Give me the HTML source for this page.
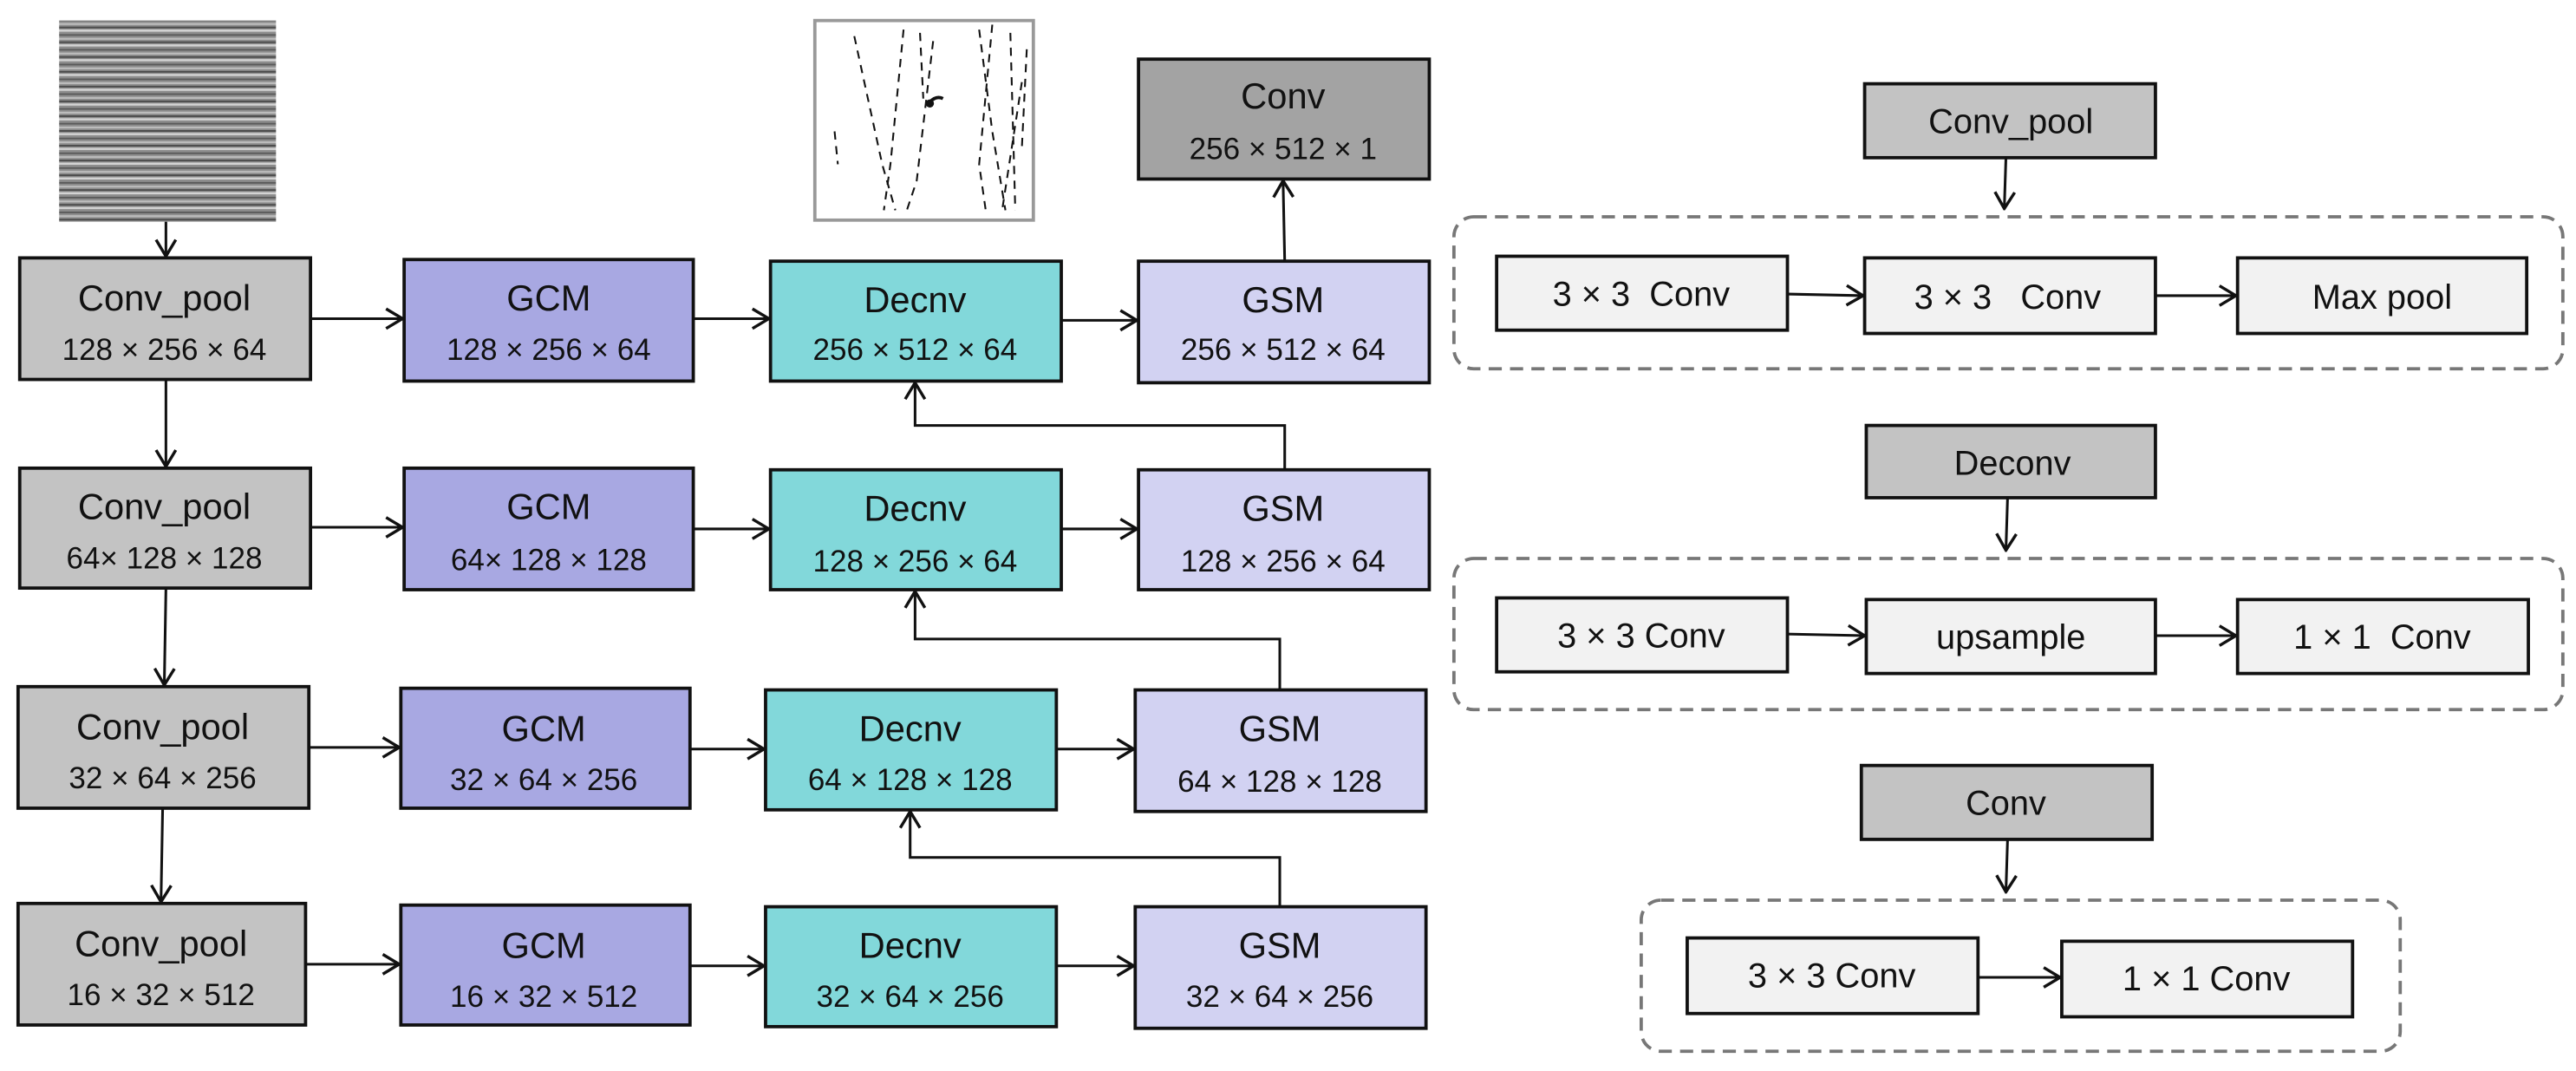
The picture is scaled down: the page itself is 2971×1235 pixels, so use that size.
<!DOCTYPE html>
<html><head><meta charset="utf-8"><style>
html,body{margin:0;padding:0;background:#fff;}
svg{display:block;}
text{font-family:"Liberation Sans",sans-serif;fill:#111;text-anchor:middle;white-space:pre;}
.t{font-size:22px;}
.d{font-size:18.5px;}
.s{font-size:21px;}
.b{stroke:#111;stroke-width:2;}
.l{stroke:#111;stroke-width:1.6;fill:none;}
</style></head><body>
<svg width="2971" height="1235" viewBox="0 0 1568 652" preserveAspectRatio="none" xmlns="http://www.w3.org/2000/svg">
<defs>
<pattern id="seis" x="36" width="132" height="9" patternUnits="userSpaceOnUse">
<rect width="132" height="9" fill="#8c8c8c"/>
<rect y="0" width="132" height="1.3" fill="#d4d4d4"/>
<rect y="2.8" width="132" height="1" fill="#5a5a5a"/>
<rect y="5" width="132" height="1.2" fill="#bdbdbd"/>
<rect y="7.2" width="132" height="1" fill="#4a4a4a"/>
</pattern>
<marker id="a" markerWidth="12" markerHeight="14" refX="11" refY="7" orient="auto" markerUnits="userSpaceOnUse">
<path d="M1,1 L11,7 L1,13" fill="none" stroke="#111" stroke-width="1.8"/>
</marker>
</defs>
<rect x="36" y="12.5" width="132" height="122.5" fill="url(#seis)"/>
<rect x="496" y="12.5" width="133" height="121.5" fill="#fff" stroke="#999" stroke-width="2"/>
<g stroke="#111" stroke-width="1.1" stroke-dasharray="5 4" fill="none">
<path d="M520,22 L537,100 L545,128"/><path d="M550,18 L542,100 L538,128"/><path d="M568,25 L558,110 L552,128"/>
<path d="M596,18 L604,80 L612,128"/><path d="M604,15 L596,100 L600,128"/><path d="M615,20 L618,128"/>
<path d="M622,50 L610,128"/><path d="M560,20 L562,60"/><path d="M625,30 L622,90"/><path d="M508,80 L510,100"/>
</g>
<path d="M566,62 q4,-4 8,-2" stroke="#111" stroke-width="2" fill="none"/>
<circle cx="566" cy="63" r="2.5" fill="#111"/>
<g>
<rect class="b" x="693" y="36" width="177" height="73" fill="#a3a3a3"/>
<text class="t" x="781" y="66">Conv</text><text class="d" x="781" y="97">256 × 512 × 1</text>

<rect class="b" x="12" y="157" width="177" height="74" fill="#c3c3c3"/>
<rect class="b" x="246" y="158" width="176" height="74" fill="#a8a8e2"/>
<rect class="b" x="469" y="159" width="177" height="73" fill="#82d8da"/>
<rect class="b" x="693" y="159" width="177" height="74" fill="#d2d2f2"/>
<text class="t" x="100" y="189">Conv_pool</text><text class="d" x="100" y="219">128 × 256 × 64</text>
<text class="t" x="334" y="189">GCM</text><text class="d" x="334" y="219">128 × 256 × 64</text>
<text class="t" x="557" y="190">Decnv</text><text class="d" x="557" y="219">256 × 512 × 64</text>
<text class="t" x="781" y="190">GSM</text><text class="d" x="781" y="219">256 × 512 × 64</text>

<rect class="b" x="12" y="285" width="177" height="73" fill="#c3c3c3"/>
<rect class="b" x="246" y="285" width="176" height="74" fill="#a8a8e2"/>
<rect class="b" x="469" y="286" width="177" height="73" fill="#82d8da"/>
<rect class="b" x="693" y="286" width="177" height="73" fill="#d2d2f2"/>
<text class="t" x="100" y="316">Conv_pool</text><text class="d" x="100" y="346">64× 128 × 128</text>
<text class="t" x="334" y="316">GCM</text><text class="d" x="334" y="347">64× 128 × 128</text>
<text class="t" x="557" y="317">Decnv</text><text class="d" x="557" y="348">128 × 256 × 64</text>
<text class="t" x="781" y="317">GSM</text><text class="d" x="781" y="348">128 × 256 × 64</text>

<rect class="b" x="11" y="418" width="177" height="74" fill="#c3c3c3"/>
<rect class="b" x="244" y="419" width="176" height="73" fill="#a8a8e2"/>
<rect class="b" x="466" y="420" width="177" height="73" fill="#82d8da"/>
<rect class="b" x="691" y="420" width="177" height="74" fill="#d2d2f2"/>
<text class="t" x="99" y="450">Conv_pool</text><text class="d" x="99" y="480">32 × 64 × 256</text>
<text class="t" x="331" y="451">GCM</text><text class="d" x="331" y="481">32 × 64 × 256</text>
<text class="t" x="554" y="451">Decnv</text><text class="d" x="554" y="481">64 × 128 × 128</text>
<text class="t" x="779" y="451">GSM</text><text class="d" x="779" y="482">64 × 128 × 128</text>

<rect class="b" x="11" y="550" width="175" height="74" fill="#c3c3c3"/>
<rect class="b" x="244" y="551" width="176" height="73" fill="#a8a8e2"/>
<rect class="b" x="466" y="552" width="177" height="73" fill="#82d8da"/>
<rect class="b" x="691" y="552" width="177" height="74" fill="#d2d2f2"/>
<text class="t" x="98" y="582">Conv_pool</text><text class="d" x="98" y="612">16 × 32 × 512</text>
<text class="t" x="331" y="583">GCM</text><text class="d" x="331" y="613">16 × 32 × 512</text>
<text class="t" x="554" y="583">Decnv</text><text class="d" x="554" y="613">32 × 64 × 256</text>
<text class="t" x="779" y="583">GSM</text><text class="d" x="779" y="613">32 × 64 × 256</text>
</g>
<line class="l" x1="101" y1="135" x2="101" y2="156" marker-end="url(#a)"/>
<line class="l" x1="101" y1="231" x2="101" y2="284" marker-end="url(#a)"/>
<line class="l" x1="101" y1="358" x2="100" y2="417" marker-end="url(#a)"/>
<line class="l" x1="99" y1="492" x2="98" y2="549" marker-end="url(#a)"/>
<g class="l">
<line x1="189" y1="194" x2="245" y2="194" marker-end="url(#a)"/>
<line x1="422" y1="194" x2="468" y2="194" marker-end="url(#a)"/>
<line x1="646" y1="195" x2="692" y2="195" marker-end="url(#a)"/>
<line x1="189" y1="321" x2="245" y2="321" marker-end="url(#a)"/>
<line x1="422" y1="322" x2="468" y2="322" marker-end="url(#a)"/>
<line x1="646" y1="322" x2="692" y2="322" marker-end="url(#a)"/>
<line x1="188" y1="455" x2="243" y2="455" marker-end="url(#a)"/>
<line x1="420" y1="456" x2="465" y2="456" marker-end="url(#a)"/>
<line x1="643" y1="456" x2="690" y2="456" marker-end="url(#a)"/>
<line x1="186" y1="587" x2="243" y2="587" marker-end="url(#a)"/>
<line x1="420" y1="588" x2="465" y2="588" marker-end="url(#a)"/>
<line x1="643" y1="588" x2="690" y2="588" marker-end="url(#a)"/>
</g>
<line class="l" x1="782" y1="159" x2="781" y2="110" marker-end="url(#a)"/>
<polyline class="l" points="782,286 782,259 557,259 557,233" marker-end="url(#a)"/>
<polyline class="l" points="779,420 779,389 557,389 557,360" marker-end="url(#a)"/>
<polyline class="l" points="779,552 779,522 554,522 554,494" marker-end="url(#a)"/>
<g fill="none" stroke="#777" stroke-width="2" stroke-dasharray="8 5">
<rect x="885" y="132" width="675" height="92.5" rx="12"/>
<rect x="885" y="340" width="675" height="92" rx="12"/>
<rect x="999" y="548" width="462" height="92" rx="12"/>
</g>
<rect class="b" x="1135" y="51" width="177" height="45" fill="#c3c3c3"/>
<text class="s" x="1224" y="81">Conv_pool</text>
<rect class="b" x="1136" y="259" width="176" height="44" fill="#c3c3c3"/>
<text class="s" x="1225" y="289">Deconv</text>
<rect class="b" x="1133" y="466" width="177" height="45" fill="#c3c3c3"/>
<text class="s" x="1221" y="496">Conv</text>
<line class="l" x1="1221" y1="96" x2="1220" y2="127" marker-end="url(#a)"/>
<line class="l" x1="1222" y1="303" x2="1221" y2="335" marker-end="url(#a)"/>
<line class="l" x1="1222" y1="511" x2="1221" y2="543" marker-end="url(#a)"/>
<g fill="#f2f2f2">
<rect class="b" x="911" y="156" width="177" height="45"/>
<rect class="b" x="1135" y="157" width="177" height="46"/>
<rect class="b" x="1362" y="157" width="176" height="46"/>
<rect class="b" x="911" y="364" width="177" height="45"/>
<rect class="b" x="1136" y="365" width="176" height="45"/>
<rect class="b" x="1362" y="365" width="177" height="45"/>
<rect class="b" x="1027" y="571" width="177" height="46"/>
<rect class="b" x="1255" y="573" width="177" height="46"/>
</g>
<g class="l">
<line x1="1088" y1="179" x2="1134" y2="180" marker-end="url(#a)"/>
<line x1="1312" y1="180" x2="1361" y2="180" marker-end="url(#a)"/>
<line x1="1088" y1="386" x2="1135" y2="387" marker-end="url(#a)"/>
<line x1="1312" y1="387" x2="1361" y2="387" marker-end="url(#a)"/>
<line x1="1204" y1="595" x2="1254" y2="595" marker-end="url(#a)"/>
</g>
<text class="s" x="999" y="186">3 × 3  Conv</text>
<text class="s" x="1222" y="188">3 × 3   Conv</text>
<text class="s" x="1450" y="188">Max pool</text>
<text class="s" x="999" y="394">3 × 3 Conv</text>
<text class="s" x="1224" y="395">upsample</text>
<text class="s" x="1450" y="395">1 × 1  Conv</text>
<text class="s" x="1115" y="601">3 × 3 Conv</text>
<text class="s" x="1343" y="603">1 × 1 Conv</text>
</svg>
</body></html>
